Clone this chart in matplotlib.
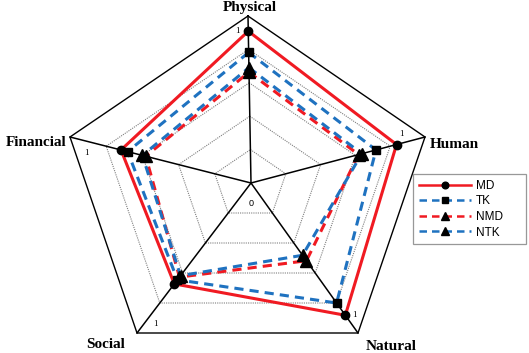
import matplotlib
matplotlib.use("Agg")
import matplotlib.pyplot as plt
from matplotlib.lines import Line2D
import numpy as np

# ---- data ----
categories = ["Physical", "Human", "Natural", "Social", "Financial"]
MD = [1.00, 0.92, 0.97, 0.74, 0.79]
TK = [0.86, 0.79, 0.88, 0.71, 0.75]
NMD = [0.73, 0.68, 0.57, 0.69, 0.64]
NTK = [0.76, 0.70, 0.53, 0.68, 0.66]
r_max = 1.1
ring_levels = [0.22, 0.44, 0.66, 0.88]
tick_labels = ["0", "1"]

# ---- geometry (chart drawn in pixel-like coordinates) ----
W, H = 529, 353
center = np.array([251.0, 183.0])
outer = np.array([[248, 16], [425, 137], [358, 333], [137, 333], [70, 137]], float)
dirs = outer - center

def pts(vals):
    v = np.asarray(vals, float)[:, None] / r_max
    p = center + v * dirs
    return np.vstack([p, p[:1]])

fig = plt.figure(figsize=(W / 100, H / 100), dpi=100)
ax = fig.add_axes([0, 0, 1, 1])
ax.set_xlim(0, W)
ax.set_ylim(H, 0)
ax.axis("off")

# grid rings
for lv in ring_levels:
    p = pts([lv] * 5)
    ax.plot(p[:, 0], p[:, 1], color="#7f7f7f", lw=0.8, ls=(0, (1, 1)), zorder=1)
p = pts([r_max] * 5)
ax.plot(p[:, 0], p[:, 1], color="black", lw=1.0, zorder=2)
# spokes
for d in dirs:
    ax.plot([center[0], center[0] + d[0]], [center[1], center[1] + d[1]],
            color="black", lw=1.1, zorder=2)

red = "#f01a22"
blue = "#1f72c0"
series = [
    ("MD", MD, red, "-", "o", 6),
    ("TK", TK, blue, (0, (3, 2)), "s", 5.5),
    ("NMD", NMD, red, (0, (3, 2)), "^", 8),
    ("NTK", NTK, blue, (0, (3, 2)), "^", 8),
]
handles = []
for name, vals, col, ls, mk, ms in series:
    p = pts(vals)
    ax.plot(p[:, 0], p[:, 1], color=col, lw=2.2, ls=ls, zorder=4,
            solid_joinstyle="miter")
    ax.plot(p[:-1, 0], p[:-1, 1], ls="none", marker=mk, ms=ms,
            color="black", zorder=5)
    handles.append(Line2D([], [], color=col, lw=1.8, ls=ls, marker=mk,
                          ms=ms * 0.8, mfc="black", mec="black"))

# axis value labels
ax.text(center[0], center[1] + 20, tick_labels[0], fontsize=6.5,
        ha="center", va="center", family="Liberation Sans")
one_offsets = [(-11, 0), (-8, -7), (6, -4), (8, 5), (0, 12)]
for d, (ox, oy) in zip(dirs, one_offsets):
    q = center + d / r_max
    ax.text(q[0] + ox, q[1] + oy, tick_labels[1], fontsize=6.5,
            ha="center", va="center", family="Liberation Serif")

# category labels
label_pos = [(250, 7, "center"), (430, 144, "left"), (391, 347, "center"),
             (106, 345, "center"), (36, 142, "center")]
for name, (x, y, ha) in zip(categories, label_pos):
    ax.text(x, y, name, fontsize=11, fontweight="bold", ha=ha, va="center",
            family="Liberation Serif")

leg = fig.legend(handles, [s[0] for s in series], loc="upper left",
                 bbox_to_anchor=(413 / W, 1 - 244 / H, 113 / W, 70 / H),
                 mode="expand", borderaxespad=0,
                 frameon=True, fancybox=False, edgecolor="#7f7f7f",
                 handlelength=4.4, labelspacing=0.3, borderpad=0.5,
                 handletextpad=0.4,
                 prop={"family": "Liberation Sans", "size": 8.5})
leg.get_frame().set_linewidth(0.9)

fig.savefig("out.png", dpi=100)
